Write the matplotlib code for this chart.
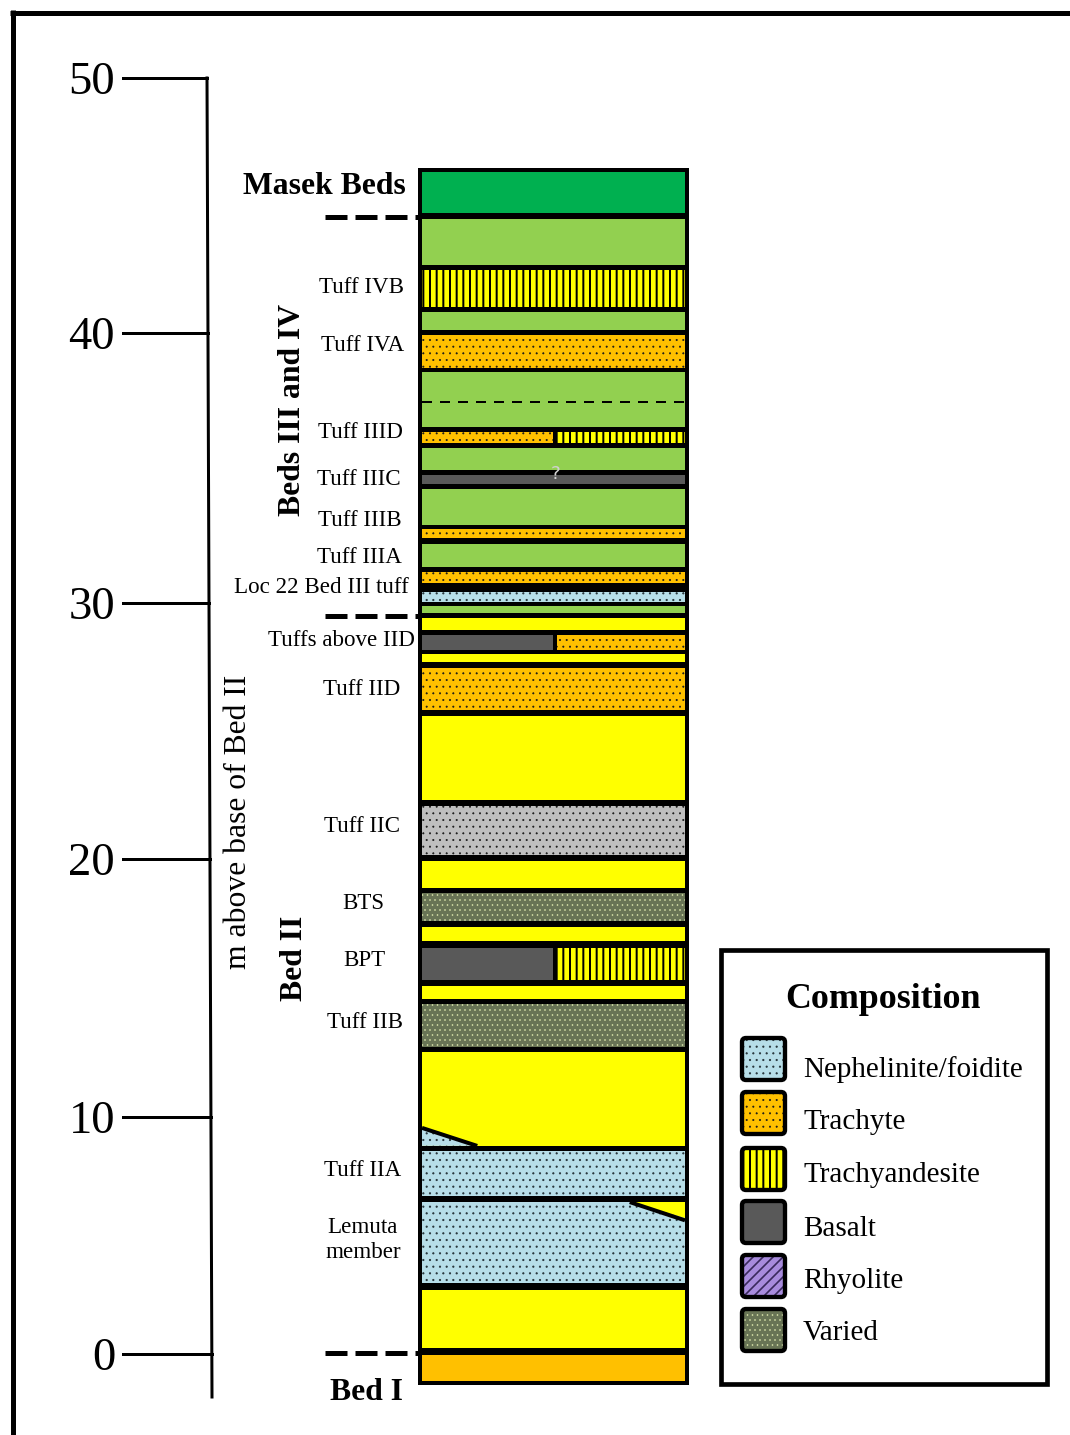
import numpy as np
import matplotlib
matplotlib.use("Agg")
import matplotlib.pyplot as plt
from matplotlib.patches import Rectangle, Polygon, FancyBboxPatch

plt.rcParams["font.family"] = "Liberation Serif"
plt.rcParams["hatch.linewidth"] = 1.0

W, H, DPI = 1070, 1435, 120

# ------------------------------------------------------------
# depth scale (m above base of Bed II) and its drawn row positions
# ------------------------------------------------------------
SCALE_M = [-10, 0, 10, 20, 30, 40, 50, 60]
SCALE_PX = [1591, 1354, 1117, 859, 603, 333, 78, -177]
TICKS = [0, 10, 20, 30, 40, 50]

# ------------------------------------------------------------
# stratigraphic units, top to bottom (m); split units have two halves
# ------------------------------------------------------------
UNIT_TOP = [46.31, 44.47, 42.47, 40.82, 39.93, 38.56, 36.33, 35.74,
            34.74, 34.22, 32.74, 32.19, 31.15, 30.41, 29.88, 29.41,
            28.75, 28.01, 27.46, 25.59, 22.07, 19.92, 18.68, 17.36,
            16.55, 15.08, 14.38, 12.52, 8.57, 6.41, 2.70, -0.04]
UNIT_BASE = [44.71, 42.67, 41.02, 40.12, 38.70, 36.52, 35.93, 34.93,
             34.41, 32.89, 32.41, 31.33, 30.74, 30.04, 29.61, 28.95,
             28.16, 27.70, 25.82, 22.30, 20.16, 18.88, 17.60, 16.82,
             15.31, 14.57, 12.71, 8.78, 6.67, 3.00, 0.25, -1.14]
UNIT_LEFT = ["masek", "bed34", "trachyandesite", "bed34", "trachyte", "bed34",
             "trachyte", "bed34", "basalt", "bed34", "trachyte", "bed34",
             "trachyte", "nephelinite", "bed34", "bed2", "basalt", "bed2",
             "trachyte", "bed2", "tuff2c", "bed2", "varied", "bed2",
             "basalt", "bed2", "varied", "bed2", "nephelinite", "nephelinite",
             "bed2", "bed1"]
UNIT_RIGHT = ["masek", "bed34", "trachyandesite", "bed34", "trachyte", "bed34",
              "trachyandesite", "bed34", "basalt", "bed34", "trachyte", "bed34",
              "trachyte", "nephelinite", "bed34", "bed2", "trachyte", "bed2",
              "trachyte", "bed2", "tuff2c", "bed2", "varied", "bed2",
              "trachyandesite", "bed2", "varied", "bed2", "nephelinite", "nephelinite",
              "bed2", "bed1"]

COLUMN_TOP, COLUMN_BASE = 46.47, -1.31
DASHED_WITHIN = 37.44          # dashed line inside the Bed III/IV interval
GROUP_BOUNDARIES = [44.55, 29.50, 0.05]

# pinch-outs: x as a fraction of column width, y in m
WEDGE_KIND = ["nephelinite", "bed2"]
WEDGE_X = [[0.0, 0.21, 0.0], [0.79, 1.0, 1.0]]
WEDGE_Y = [[9.54, 8.78, 8.78], [6.41, 6.41, 5.74]]

# unit names beside the column
LABELS = ["Tuff IVB", "Tuff IVA", "Tuff IIID", "Tuff IIIC", "Tuff IIIB",
          "Tuff IIIA", "Loc 22 Bed III tuff", "Tuffs above IID", "Tuff IID",
          "Tuff IIC", "BTS", "BPT", "Tuff IIB", "Tuff IIA", "Lemuta\nmember"]
LABEL_M = [41.80, 39.52, 36.30, 34.59, 33.04, 31.67, 30.56, 28.52, 26.64,
           21.25, 18.26, 16.05, 13.68, 7.76, 4.81]
LABEL_X = [404, 404, 403, 401, 402, 402, 409, 415, 400, 400, 363, 364, 403, 401, 363]
LABEL_HA = ["right"] * 10 + ["center", "center", "right", "right", "center"]

# legend
LEGEND_KINDS = ["nephelinite", "trachyte", "trachyandesite", "basalt", "rhyolite", "varied"]
LEGEND_NAMES = ["Nephelinite/foidite", "Trachyte", "Trachyandesite", "Basalt",
                "Rhyolite", "Varied"]

# facecolor, hatch, hatch colour, hatch linewidth
STYLE = {
    "masek": ("#00B050", None, None, 0),
    "bed34": ("#92D050", None, None, 0),
    "bed2": ("#FFFF00", None, None, 0),
    "bed1": ("#FFC000", None, None, 0),
    "trachyte": ("#FFC000", "...", "#1A1A1A", 0.4),
    "trachyandesite": ("#FFFF00", "|||", "black", 1.2),
    "nephelinite": ("#B7DEE8", "...", "#27343A", 0.5),
    "basalt": ("#595959", None, None, 0),
    "rhyolite": ("#A88BDD", "////", "#3A2A5C", 1.0),
    "varied": ("#687455", "....", "#D3DDA6", 0.4),
    "tuff2c": ("#BFBFBF", "...", "#1A1A1A", 0.4),
}

FILL_X0, FILL_X1, SPLIT_L, SPLIT_R = 422, 685, 553, 557
COL_X0, COL_X1 = 418, 689


def to_rows(m):
    return H - np.interp(m, SCALE_M, SCALE_PX)


def from_rows(t):
    return np.interp(H - np.asarray(t), SCALE_PX[::-1], SCALE_M[::-1])


def styled(patch, kind):
    face, hatch, hcolor, hlw = STYLE[kind]
    patch.set_facecolor(face)
    patch.set_linewidth(0)
    if hatch:
        patch.set_edgecolor(hcolor)
        patch.set_hatch(hatch)
        if hasattr(patch, "set_hatch_linewidth"):
            patch.set_hatch_linewidth(hlw)
    return patch


fig = plt.figure(figsize=(W / DPI, H / DPI), dpi=DPI)
ax = fig.add_axes([0, 0, 1, 1])
ax.set_yscale("function", functions=(to_rows, from_rows))
ax.set_xlim(0, W)
ax.set_ylim(float(from_rows(0.0)), float(from_rows(float(H))))
ax.axis("off")

# column frame, units sit on a black background so gaps read as lines
ax.add_patch(Rectangle((COL_X0, COLUMN_BASE), COL_X1 - COL_X0,
                       COLUMN_TOP - COLUMN_BASE, facecolor="black", lw=0))
for top, base, left, right in zip(UNIT_TOP, UNIT_BASE, UNIT_LEFT, UNIT_RIGHT):
    if left == right:
        ax.add_patch(styled(Rectangle((FILL_X0, base), FILL_X1 - FILL_X0, top - base), left))
    else:
        ax.add_patch(styled(Rectangle((FILL_X0, base), SPLIT_L - FILL_X0, top - base), left))
        ax.add_patch(styled(Rectangle((SPLIT_R, base), FILL_X1 - SPLIT_R, top - base), right))

for kind, xs, ys in zip(WEDGE_KIND, WEDGE_X, WEDGE_Y):
    px = [FILL_X0 + f * (FILL_X1 - FILL_X0) for f in xs]
    ax.add_patch(styled(Polygon(list(zip(px, ys)), closed=True), kind))
    if xs[0] == 0.0:
        ax.plot([px[0], px[1]], [ys[0], ys[1]], color="black", lw=2.4, solid_capstyle="butt")
    else:
        ax.plot([px[0], px[2]], [ys[0], ys[2] - 0.1], color="black", lw=2.4, solid_capstyle="butt")

ax.plot([FILL_X0, FILL_X1], [DASHED_WITHIN] * 2, color="black", lw=1.2, dashes=(5, 4))
ax.text(556, 34.78, "?", color="#D0D0D0", fontsize=11, ha="center", va="center",
        family="DejaVu Sans")

for b in GROUP_BOUNDARIES:
    ax.plot([325, COL_X0 + 2], [b, b], color="black", lw=3, dashes=(4.4, 1.6))

# hand-drawn scale bar
axis_bottom = float(from_rows(H - 1397))
ax.plot([207, 212], [50, axis_bottom], color="black", lw=1.8)
for t in TICKS:
    xr = np.interp(t, [axis_bottom, 50], [212, 207])
    ax.plot([123, xr], [t, t], color="black", lw=1.8)
    ax.text(115, t, str(t), fontsize=28, ha="right", va="center_baseline")

ax.text(238, 21.45, "m above base of Bed II", rotation=90, fontsize=19,
        ha="center", va="center")
ax.text(292, 37.15, "Beds III and IV", rotation=90, fontsize=19, fontweight="bold",
        ha="center", va="center")
ax.text(294, 16.16, "Bed II", rotation=90, fontsize=19, fontweight="bold",
        ha="center", va="center")
ax.text(406, 45.88, "Masek Beds", fontsize=19, fontweight="bold",
        ha="right", va="center_baseline")
ax.text(367, -1.48, "Bed I", fontsize=19, fontweight="bold",
        ha="center", va="center_baseline")

for name, m, x, ha in zip(LABELS, LABEL_M, LABEL_X, LABEL_HA):
    ax.text(x, m, name, fontsize=13.8, ha=ha, va="center", linespacing=1.25)

# overlay in pixel units for the frame and legend
ov = fig.add_axes([0, 0, 1, 1])
ov.set_xlim(0, W)
ov.set_ylim(H, 0)
ov.axis("off")
ov.plot([10, W], [12.5, 12.5], color="black", lw=3, solid_capstyle="butt")
ov.plot([12.5, 12.5], [10, H], color="black", lw=3, solid_capstyle="butt")

ov.add_patch(Rectangle((721, 950), 326, 434, fill=False, edgecolor="black", lw=2.8))
ov.text(883, 996, "Composition", fontsize=21.5, fontweight="bold",
        ha="center", va="center_baseline")
SWATCH_Y = [1059, 1113, 1169, 1222, 1276, 1330]
TEXT_Y = [1067, 1119, 1172, 1226, 1278, 1330]
for kind, name, sy, ty in zip(LEGEND_KINDS, LEGEND_NAMES, SWATCH_Y, TEXT_Y):
    box = dict(boxstyle="round,pad=0,rounding_size=4")
    ov.add_patch(styled(FancyBboxPatch((742, sy - 21), 43, 42, **box), kind))
    ov.add_patch(FancyBboxPatch((742, sy - 21), 43, 42, fill=False,
                                edgecolor="black", lw=2.6, **box))
    ov.text(803, ty, name, fontsize=17.5, ha="left", va="center_baseline")

fig.savefig("out.png", dpi=DPI)
